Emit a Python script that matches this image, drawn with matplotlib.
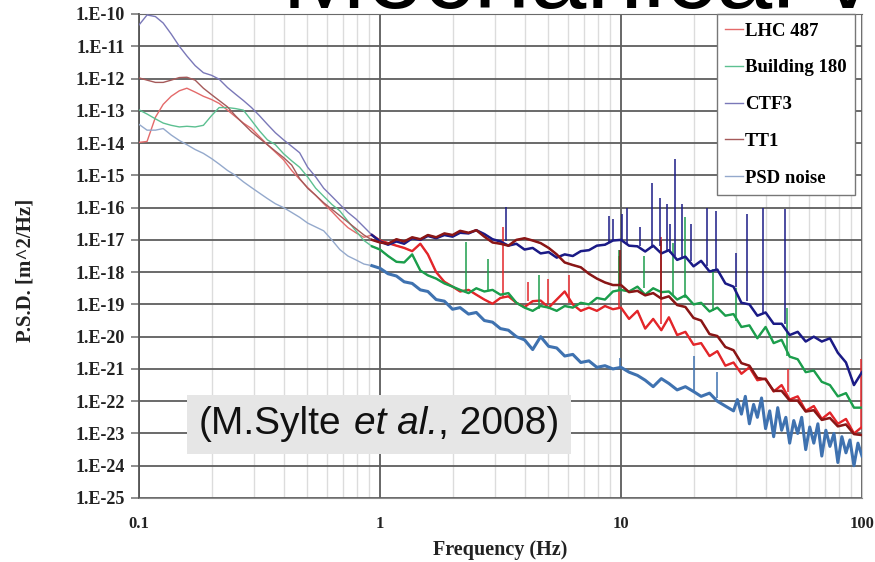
import numpy as np
import matplotlib
matplotlib.use("Agg")
import matplotlib.pyplot as plt
from matplotlib.ticker import FixedLocator, NullLocator, LogLocator, NullFormatter
from matplotlib.offsetbox import TextArea, HPacker, AnchoredOffsetbox

# ---------------- data ----------------
freq_hz = [0.100, 0.108, 0.117, 0.126, 0.136, 0.147, 0.158, 0.171, 0.185, 0.200,
           0.215, 0.233, 0.251, 0.271, 0.293, 0.316, 0.341, 0.368, 0.398, 0.430,
           0.464, 0.501, 0.541, 0.584, 0.631, 0.681, 0.736, 0.794, 0.858, 0.926,
           1.00, 1.08, 1.17, 1.26, 1.36, 1.47, 1.58, 1.71, 1.85, 2.00,
           2.15, 2.33, 2.51, 2.71, 2.93, 3.16, 3.41, 3.68, 3.98, 4.30,
           4.64, 5.01, 5.41, 5.84, 6.31, 6.81, 7.36, 7.94, 8.58, 9.26,
           10.0, 10.8, 11.7, 12.6, 13.6, 14.7, 15.8, 17.1, 18.5, 20.0,
           21.5, 23.3, 25.1, 27.1, 29.3, 31.6, 34.1, 36.8, 39.8, 43.0,
           46.4, 50.1, 54.1, 58.4, 63.1, 68.1, 73.6, 79.4, 85.8, 92.6, 100.0]

# PSD values as log10(m^2/Hz)
lhc487_log = [-13.98, -13.95, -13.2, -12.8, -12.55, -12.38, -12.3, -12.42, -12.55, -12.65,
              -12.77, -12.98, -13.18, -13.38, -13.55, -13.8, -14.05, -14.28, -14.52, -14.85,
              -15.12, -15.38, -15.62, -15.88, -16.12, -16.38, -16.62, -16.78, -16.92, -16.85,
              -17.02, -17.1, -17.18, -17.25, -17.35, -17.12, -17.45, -18.0, -18.3, -18.45,
              -18.6, -18.55, -18.7, -18.85, -18.98, -18.8, -18.75, -18.95, -19.08, -18.9,
              -18.88, -19.1, -18.85, -18.6, -19.0, -19.2, -19.1, -19.2, -19.05, -19.15,
              -19.1, -19.45, -19.2, -19.75, -19.45, -19.8, -19.4, -19.95, -19.85, -20.25,
              -20.2, -20.6, -20.45, -20.9, -20.8, -21.15, -20.95, -21.35, -21.3, -21.7,
              -21.5, -21.95, -21.85, -22.3, -22.15, -22.55, -22.35, -22.7, -22.55, -23.0, -22.8]

building180_log = [-12.97, -13.1, -13.25, -13.38, -13.45, -13.5, -13.48, -13.5, -13.45, -13.15,
                   -12.9, -12.9, -12.93, -12.98, -13.3, -13.62, -13.9, -14.05, -14.33, -14.55,
                   -14.75, -15.05, -15.4, -15.65, -15.9, -16.1, -16.42, -16.72, -17.02, -17.2,
                   -17.3, -17.5, -17.68, -17.7, -17.45, -17.95, -18.1, -18.2, -18.35, -18.45,
                   -18.55, -18.65, -18.5, -18.6, -18.55, -18.7, -18.65, -18.95, -19.1, -19.2,
                   -19.05, -19.1, -19.2, -19.05, -19.1, -18.95, -19.0, -18.8, -18.85, -18.6,
                   -18.55, -18.6, -18.45, -18.7, -18.5, -18.62, -18.6, -18.85, -18.72, -19.0,
                   -18.95, -19.22, -19.1, -19.35, -19.3, -19.7, -19.65, -20.05, -19.7, -20.2,
                   -20.1, -20.62, -20.7, -21.1, -21.05, -21.4, -21.5, -21.85, -21.75, -22.2, -22.2]

ctf3_log = [-10.34, -10.03, -10.08, -10.28, -10.62, -11.0, -11.3, -11.6, -11.82, -11.9,
            -12.02, -12.28, -12.48, -12.68, -12.9, -13.15, -13.42, -13.68, -13.9, -14.1,
            -14.3, -14.75, -15.05, -15.4, -15.65, -15.9, -16.15, -16.35, -16.6, -16.85,
            -17.05, -17.15, -17.05, -17.12, -16.95, -17.0, -16.88, -16.95, -16.85, -16.9,
            -16.78, -16.8, -16.7, -16.82, -16.98, -17.05, -17.18, -17.12, -17.3, -17.25,
            -17.42, -17.38, -17.55, -17.45, -17.5, -17.35, -17.32, -17.18, -17.15, -17.02,
            -17.0, -17.18, -17.2, -17.36, -17.18, -17.42, -17.32, -17.62, -17.52, -17.82,
            -17.65, -17.98, -17.92, -18.35, -18.45, -18.95, -19.0, -19.35, -19.25, -19.6,
            -19.6, -19.95, -19.85, -20.15, -20.0, -20.15, -20.05, -20.5, -20.8, -21.5, -21.1]

tt1_log = [-11.98, -12.05, -12.12, -12.12, -12.05, -11.97, -11.96, -12.05, -12.3, -12.5,
           -12.68, -12.88, -13.15, -13.4, -13.65, -13.85, -14.05, -14.25, -14.45, -14.68,
           -15.1, -15.4, -15.62, -15.85, -16.05, -16.25, -16.45, -16.65, -16.85, -17.0,
           -17.08, -17.12, -16.98, -17.05, -16.92, -16.98, -16.85, -16.92, -16.8, -16.85,
           -16.72, -16.78, -16.7, -16.9, -17.08, -17.12, -17.18, -17.0, -16.95, -17.02,
           -17.1, -17.25, -17.45, -17.7, -17.78, -17.85, -18.05, -18.2, -18.32, -18.4,
           -18.4, -18.62, -18.58, -18.72, -18.65, -18.82, -18.75, -19.02, -19.08, -19.42,
           -19.5, -19.92, -19.98, -20.32, -20.42, -20.82, -20.9, -21.28, -21.32, -21.68,
           -21.68, -21.98, -21.98, -22.32, -22.28, -22.58, -22.52, -22.78, -22.72, -23.02, -23.05]

# PSD noise has its own, denser frequency list above 30 Hz (dense noise band)
noise_freq_hz = [0.100, 0.108, 0.117, 0.126, 0.136, 0.147, 0.158, 0.171, 0.185, 0.200,
                 0.215, 0.233, 0.251, 0.271, 0.293, 0.316, 0.341, 0.368, 0.398, 0.430,
                 0.464, 0.501, 0.541, 0.584, 0.631, 0.681, 0.736, 0.794, 0.858, 0.926,
                 1.00, 1.08, 1.17, 1.26, 1.36, 1.47, 1.58, 1.71, 1.85, 2.00,
                 2.15, 2.33, 2.51, 2.71, 2.93, 3.16, 3.41, 3.68, 3.98, 4.30,
                 4.64, 5.01, 5.41, 5.84, 6.31, 6.81, 7.36, 7.94, 8.58, 9.26,
                 10.0, 10.8, 11.7, 12.6, 13.6, 14.7, 15.8, 17.1, 18.5, 20.0,
                 21.5, 23.3, 25.1, 27.1, 29.3, 30.4, 31.6, 32.8, 34.1, 35.5,
                 36.8, 38.3, 39.8, 41.4, 43.0, 44.7, 46.4, 48.3, 50.1, 52.1,
                 54.1, 56.2, 58.4, 60.7, 63.1, 65.6, 68.1, 70.8, 73.6, 76.5,
                 79.4, 82.5, 85.8, 89.1, 92.6, 96.2, 100.0]
psd_noise_log = [-13.42, -13.6, -13.6, -13.55, -13.75, -13.92, -14.05, -14.2, -14.32, -14.48,
                 -14.65, -14.85, -15.0, -15.2, -15.38, -15.55, -15.72, -15.88, -16.0, -16.15,
                 -16.3, -16.48, -16.6, -16.72, -17.0, -17.3, -17.5, -17.62, -17.75, -17.8,
                 -17.88, -18.05, -18.12, -18.3, -18.35, -18.55, -18.6, -18.85, -18.9, -19.15,
                 -19.1, -19.3, -19.25, -19.5, -19.55, -19.75, -19.8, -20.0, -20.1, -20.4,
                 -20.0, -20.3, -20.35, -20.6, -20.55, -20.8, -20.75, -20.95, -20.9, -21.0,
                 -20.95, -21.1, -21.2, -21.35, -21.55, -21.3, -21.45, -21.65, -21.55, -21.7,
                 -21.85, -21.75, -22.0, -22.15, -22.3, -21.95, -22.4, -21.85, -22.7, -22.1,
                 -22.5, -21.9, -22.85, -22.3, -23.1, -22.2, -22.9, -22.5, -23.3, -22.6,
                 -23.0, -22.5, -23.5, -22.8, -23.3, -22.7, -23.7, -22.9, -23.4, -23.0,
                 -23.9, -23.1, -23.6, -23.2, -24.0, -23.3, -23.7]

# narrow spectral lines: frequency (Hz), base log10 PSD, peak log10 PSD
ctf3_spike_f = [3.33, 8.9, 9.3, 10.1, 10.6, 12.0, 13.5, 14.5, 15.5, 15.9, 16.8, 17.9,
                19.5, 22.7, 24.7, 30.0, 33.3, 39.0, 48.0]
ctf3_spike_base = [-17.05, -17.1, -17.05, -17.05, -17.15, -17.2, -17.25, -17.2, -17.35, -17.4,
                   -17.5, -17.55, -17.65, -17.8, -17.95, -18.45, -18.9, -19.3, -19.6]
ctf3_spike_top = [-15.98, -16.25, -16.35, -16.2, -16.0, -16.6, -15.25, -15.7, -15.9, -16.5,
                  -14.48, -15.9, -16.5, -16.0, -16.1, -17.4, -16.2, -16.0, -16.05]

lhc_spike_f = [3.25, 4.1, 5.0, 6.1, 9.85, 14.7, 49.5, 99.0]
lhc_spike_base = [-18.8, -18.9, -19.0, -18.95, -19.15, -19.6, -21.7, -22.85]
lhc_spike_top = [-16.6, -18.3, -18.2, -18.1, -17.5, -16.9, -21.0, -20.7]

tt1_spike_f = [9.9, 14.6]
tt1_spike_base = [-18.4, -18.8]
tt1_spike_top = [-17.3, -17.0]

b180_spike_f = [2.28, 2.81, 4.55, 9.85, 12.4, 16.4, 18.5, 24.2, 30.0, 49.0]
b180_spike_base = [-18.6, -18.55, -19.15, -18.6, -18.5, -18.7, -18.8, -19.2, -19.5, -20.6]
b180_spike_top = [-17.06, -17.6, -18.1, -17.3, -17.5, -17.1, -16.3, -17.9, -18.5, -19.1]

noise_spike_f = [9.95, 20.0, 25.0]
noise_spike_base = [-20.95, -21.7, -21.9]
noise_spike_top = [-20.66, -20.6, -21.1]

series_labels = ["LHC 487", "Building 180", "CTF3", "TT1", "PSD noise"]
series_colors = ["#e3262a", "#1c9e4c", "#1b1b86", "#8a1616", "#3f72b0"]
series_light = ["#e46a6a", "#5cc091", "#7a78b8", "#a55a5a", "#94a9cc"]

y_tick_exponents = [-25, -24, -23, -22, -21, -20, -19, -18, -17, -16, -15, -14, -13, -12, -11, -10]
y_tick_labels = ["1.E-25", "1.E-24", "1.E-23", "1.E-22", "1.E-21", "1.E-20", "1.E-19", "1.E-18",
                 "1.E-17", "1.E-16", "1.E-15", "1.E-14", "1.E-13", "1.E-12", "1.E-11", "1.E-10"]
x_ticks = [0.1, 1, 10, 100]
x_tick_labels = ["0.1", "1", "10", "100"]

# ---------------- figure ----------------
fig = plt.figure(figsize=(8.75, 5.62), dpi=100)
ax = fig.add_axes([139/875, 1 - 498/562, (862 - 139)/875, (498 - 14)/562])

all_series = [(freq_hz, lhc487_log), (freq_hz, building180_log), (freq_hz, ctf3_log),
              (freq_hz, tt1_log), (noise_freq_hz, psd_noise_log)]
spikes = [(lhc_spike_f, lhc_spike_base, lhc_spike_top),
          (b180_spike_f, b180_spike_base, b180_spike_top),
          (ctf3_spike_f, ctf3_spike_base, ctf3_spike_top),
          (tt1_spike_f, tt1_spike_base, tt1_spike_top),
          (noise_spike_f, noise_spike_base, noise_spike_top)]
hi_widths = [1.7, 1.7, 1.8, 1.8, 2.2]

for i, ((fr, vals), lab, col, lcol) in enumerate(zip(all_series, series_labels, series_colors, series_light)):
    fr = np.array(fr)
    psd = 10.0 ** np.array(vals)
    # whole spectrum, thin and light (as the smooth low-frequency part appears)
    ax.plot(fr, psd, color=lcol, lw=1.0, label=lab, zorder=3 + i)
    # noisy upper part drawn stronger
    hi = fr >= 0.92
    ax.plot(fr[hi], psd[hi], color=col, lw=hi_widths[i], zorder=3 + i)
    sf, sb, st = spikes[i]
    ax.vlines(sf, 10.0 ** np.array(sb), 10.0 ** np.array(st), color=col, lw=1.1, zorder=3 + i)

ax.set_xscale('log')
ax.set_yscale('log')
ax.set_xlim(0.1, 100)
ax.set_ylim(1e-25, 1e-10)

ax.yaxis.set_major_locator(FixedLocator([10.0 ** e for e in y_tick_exponents]))
ax.yaxis.set_minor_locator(NullLocator())
ax.set_yticklabels(y_tick_labels)
ax.xaxis.set_major_locator(FixedLocator(x_ticks))
ax.xaxis.set_minor_locator(LogLocator(base=10, subs=[2, 3, 4, 5, 6, 7, 8, 9]))
ax.xaxis.set_minor_formatter(NullFormatter())
ax.set_xticklabels(x_tick_labels)

ax.grid(which='major', axis='y', color='#5e5e5e', lw=1.3, zorder=1)
ax.grid(which='major', axis='x', color='#4e4e4e', lw=1.2, zorder=1)
ax.grid(which='minor', axis='x', color='#dcdcdc', lw=1.0, zorder=0)
ax.set_axisbelow(True)

ax.spines['left'].set_color('#555555')
ax.spines['left'].set_linewidth(1.3)
ax.spines['bottom'].set_color('#8a8a8a')
ax.spines['top'].set_color('#6a6a6a')
ax.spines['right'].set_color('#cfcfcf')

serif = 'Liberation Serif'
ax.tick_params(axis='y', which='major', direction='out', length=6, width=1.2, color='#7a7a7a',
               pad=4, labelsize=13)
ax.tick_params(axis='x', which='both', length=0, pad=13, labelsize=12)
for lab in ax.get_yticklabels() + ax.get_xticklabels():
    lab.set_fontfamily(serif)
    lab.set_fontweight('bold')
    lab.set_color('#222222')

ax.set_xlabel("Frequency (Hz)", fontfamily=serif, fontweight='bold', fontsize=14.5, color='#222222',
              labelpad=6)
ax.set_ylabel("P.S.D. [m^2/Hz]", fontfamily=serif, fontweight='bold', fontsize=15, color='#222222')
ax.yaxis.set_label_coords(-0.143, 0.47)

leg = ax.legend(loc='upper right', bbox_to_anchor=(855/875, 1 - 14/562),
                bbox_transform=fig.transFigure, borderaxespad=0,
                prop={'family': serif, 'weight': 'bold', 'size': 13.5},
                frameon=True, fancybox=False, framealpha=1, edgecolor='#777777',
                handlelength=0.95, handletextpad=0.1, labelspacing=1.05, borderpad=0.45)
leg.get_frame().set_linewidth(1.0)
leg.set_zorder(20)

# citation box: "(M.Sylte et al., 2008)" with italic "et al."
cite_props = dict(fontfamily='Liberation Sans', fontsize=28, color='#111111')
part1 = TextArea("(M.Sylte", textprops=cite_props)
part2 = TextArea("et al.", textprops=dict(cite_props, fontstyle='italic'))
part3 = TextArea(", 2008)", textprops=cite_props)
inner = HPacker(children=[part2, part3], align='baseline', pad=0, sep=0)
cite = HPacker(children=[part1, inner], align='baseline', pad=0, sep=9)
cite_box = AnchoredOffsetbox(loc='center left', child=cite, pad=0.3, frameon=True,
                             prop=dict(size=28), borderpad=0,
                             bbox_to_anchor=(187/875, 1 - 424.5/562),
                             bbox_transform=fig.transFigure)
cite_box.patch.set_facecolor('#e6e6e6')
cite_box.patch.set_edgecolor('none')
cite_box.set_zorder(30)
ax.add_artist(cite_box)

# slide title peeking in at the top
fig.text(282/875, 1 - 8/562, "Mechanical v", fontfamily='Liberation Sans', fontsize=73,
         va='baseline', ha='left', color='black', zorder=40)

fig.savefig("out.png", dpi=100)
